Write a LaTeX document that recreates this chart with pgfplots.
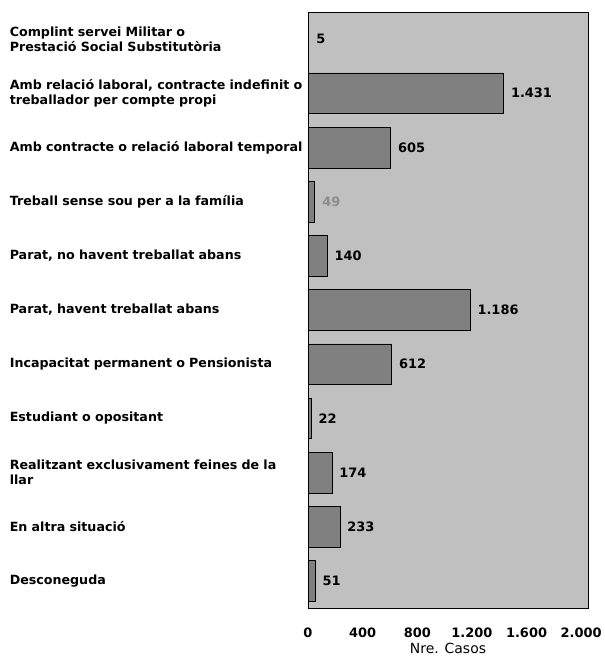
\documentclass[border=0pt]{standalone}
\usepackage{fontspec}
\setmainfont{DejaVu Sans}
\usepackage{pgfplots}
\pgfplotsset{compat=1.18}
\definecolor{bgc}{RGB}{192,192,192}
\definecolor{barc}{RGB}{128,128,128}
\definecolor{lbl}{RGB}{140,140,140}

\begin{document}
\begin{tikzpicture}
\path (0,0) rectangle (601bp,661bp);
\begin{axis}[
  at={(308bp,53bp)}, anchor=south west,
  scale only axis, width=280bp, height=596bp,
  xbar, bar width=0.75, bar shift=0pt,
  xmin=0, xmax=2050, ymin=-0.5, ymax=10.5, y dir=reverse,
  axis background/.style={fill=bgc},
  axis line style={black, line width=0.6pt},
  major tick length=0pt,
  xtick={0,400,...,2000},
  ytick={0,...,10},
  yticklabels={
    {Complint servei Militar o\\Prestació Social Substitutòria},
    {Amb relació laboral, contracte indefinit o\\treballador per compte propi},
    {Amb contracte o relació laboral temporal},
    {Treball sense sou per a la família},
    {Parat, no havent treballat abans},
    {Parat, havent treballat abans},
    {Incapacitat permanent o Pensionista},
    {Estudiant o opositant},
    {Realitzant exclusivament feines de la\\llar},
    {En altra situació},
    {Desconeguda}},
  yticklabel style={text width=296bp, align=left, inner sep=0pt, xshift=-2bp,
    font=\fontsize{12.7}{15}\selectfont\bfseries},
  xticklabel style={font=\fontsize{13}{14}\selectfont\bfseries, yshift=-16bp},
  /pgf/number format/1000 sep={.},
  /pgf/number format/assume math mode=true,
  xlabel={Nre. Casos},
  xlabel style={font=\fontsize{14}{16}\selectfont, at={(axis description cs:0.5,0)}, anchor=north, yshift=-32bp},
  nodes near coords,
  nodes near coords align={horizontal},
  every node near coord/.append style={font=\fontsize{13}{14}\selectfont\bfseries, anchor=west, xshift=4bp},
]
\addplot[fill=barc, draw=black, line width=0.5pt] coordinates {
  (5,0) (1431,1) (605,2) (140,4) (1186,5) (612,6) (22,7) (174,8) (233,9) (51,10)};
\addplot[fill=barc, draw=black, line width=0.5pt,
  every node near coord/.append style={text=lbl}] coordinates {(49,3)};
\end{axis}
\end{tikzpicture}
\end{document}
